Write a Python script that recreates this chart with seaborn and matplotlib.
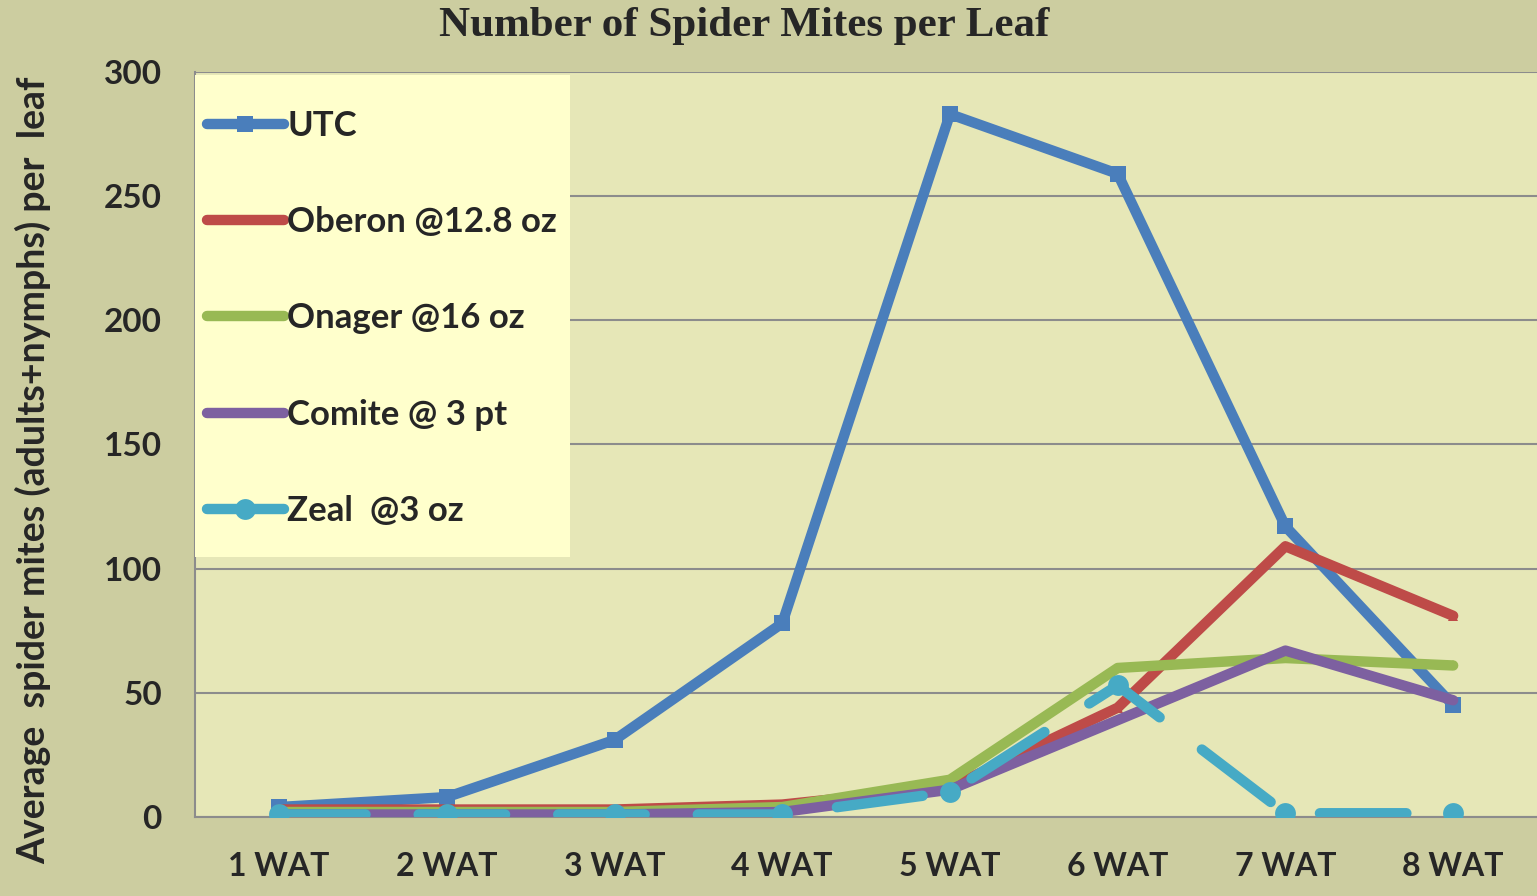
import numpy as np
import pandas as pd
import matplotlib
matplotlib.use("Agg")
import matplotlib.pyplot as plt
import seaborn as sns
from matplotlib.lines import Line2D
from matplotlib.patches import Rectangle

# Values
weeks = ["1 WAT", "2 WAT", "3 WAT", "4 WAT", "5 WAT", "6 WAT", "7 WAT", "8 WAT"]
utc = [4, 8, 31, 78, 283, 259, 117, 45]
oberon = [3, 3, 3, 5, 12, 44, 109, 81]
onager = [2, 2, 2, 4, 15, 60, 64, 61]
comite = [1, 1, 1, 2, 11, 39, 67, 47]
zeal = [1, 1, 1, 1, 10, 53, 1.5, 1.5]

series_names = ["UTC", "Oberon @12.8 oz", "Onager @16 oz", "Comite @ 3 pt", "Zeal  @3 oz"]
series_values = [utc, oberon, onager, comite, zeal]
colors = ["#4A7EBB", "#BE4B48", "#98B954", "#7D60A0", "#46AAC5"]
markers = ["s", "^", "d", "d", "o"]
marker_sizes = [12, 7, 5, 5, 15]

sns.set_style("white")
plt.rcParams["font.family"] = ["Lato", "DejaVu Sans"]

fig = plt.figure(figsize=(15.37, 8.96), dpi=100)
fig.patch.set_facecolor("#CCCDA0")
ax = fig.add_axes([0.127, 0.0882, 0.873, 0.8315])
ax.set_facecolor("#E6E7B7")

x = np.arange(len(weeks))
for name, vals, col, mk, ms in zip(series_names, series_values, colors, markers, marker_sizes):
    df = pd.DataFrame({"week": x, "value": vals})
    kw = {}
    if name.startswith("Zeal"):
        kw = dict(linestyle=(0, (8.3, 5.1)), dash_capstyle="round")
    sns.lineplot(data=df, x="week", y="value", ax=ax, color=col, marker=mk,
                 markersize=ms, markeredgewidth=0, linewidth=7.5,
                 solid_capstyle="round", sort=False, zorder=3, **kw)

ax.set_xlim(-0.5, 7.5)
ax.set_ylim(0, 300)
ax.set_yticks(np.arange(0, 301, 50))
ax.set_xticks(x)
ax.set_xticklabels(weeks, fontsize=23, fontweight="bold")
ax.set_xticks(np.arange(-0.5, 8, 1), minor=True)
ax.tick_params(axis="x", which="major", length=0, pad=25)
ax.tick_params(axis="x", which="minor", length=7, width=1.5, color="#8C8C8C", direction="out")
ax.tick_params(axis="y", length=7, width=1.5, color="#8C8C8C", direction="out",
               labelsize=24, pad=17)
for lab in ax.get_yticklabels():
    lab.set_fontweight("bold")

ax.grid(axis="y", color="#8C8C8C", linewidth=1.5, zorder=1)
ax.set_axisbelow(True)
for side in ["top", "right"]:
    ax.spines[side].set_visible(False)
for side in ["left", "bottom"]:
    ax.spines[side].set_color("#8C8C8C")
    ax.spines[side].set_linewidth(1.5)

ax.set_xlabel("")
ax.set_ylabel("Average  spider mites (adults+nymphs) per  leaf", fontsize=27,
              fontweight="bold")
ax.yaxis.set_label_coords(-0.107, 0.466)

fig.suptitle("Number of Spider Mites per Leaf", x=0.484, y=0.992,
             fontsize=31, fontweight="bold", family="Liberation Serif")

# legend box
ax.add_patch(Rectangle((0, 0.349), 0.2794, 0.647, transform=ax.transAxes,
                       facecolor="#FFFFCC", edgecolor="none", zorder=4))
handles = [Line2D([0], [0], color=c, marker=m, markersize=s, markeredgewidth=0,
                  linewidth=7.5, solid_capstyle="round")
           for c, m, s in zip(colors, markers, marker_sizes)]
leg = ax.legend(handles, series_names, loc="upper left",
                bbox_to_anchor=(0.009, 0.949),
                frameon=False, handlelength=2.2, handletextpad=0.1,
                labelspacing=1.85, borderpad=0, borderaxespad=0,
                prop={"size": 25, "weight": "bold"})
leg.set_zorder(5)

fig.savefig("out.png", dpi=100, facecolor=fig.get_facecolor())
